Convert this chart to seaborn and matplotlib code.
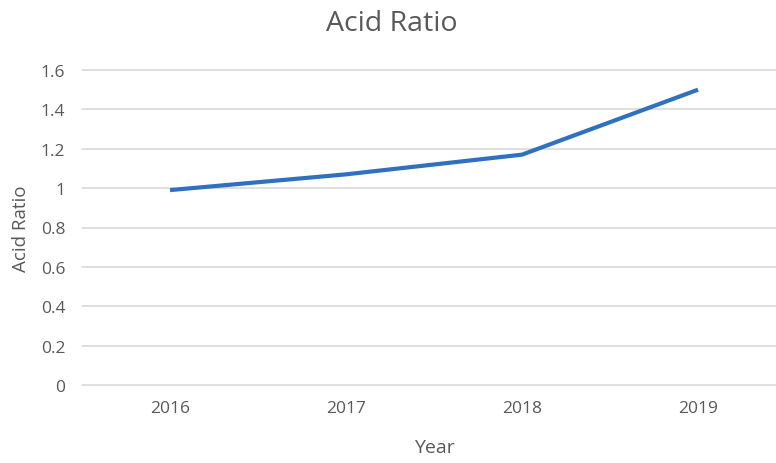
import matplotlib
matplotlib.use("Agg")
import matplotlib.pyplot as plt
import seaborn as sns
import pandas as pd

years = ["2016", "2017", "2018", "2019"]
acid_ratio = [0.99, 1.07, 1.17, 1.50]
y_ticks = [0, 0.2, 0.4, 0.6, 0.8, 1.0, 1.2, 1.4, 1.6]
y_tick_labels = ["0", "0.2", "0.4", "0.6", "0.8", "1", "1.2", "1.4", "1.6"]

df = pd.DataFrame({"Year": years, "Acid Ratio": acid_ratio})

sns.set_theme(style="white")
plt.rcParams["font.family"] = ["Open Sans", "DejaVu Sans"]
txt = "#595959"

fig = plt.figure(figsize=(7.76, 4.64), dpi=100)
ax = fig.add_axes([82 / 776, 78 / 464, 704 / 776, 315 / 464])

sns.lineplot(data=df, x="Year", y="Acid Ratio", ax=ax, color="#2F70C1",
             linewidth=3.0, solid_capstyle="butt", sort=False)

ax.set_xlim(-0.5, 3.5)
ax.set_ylim(0, 1.6)
ax.set_yticks(y_ticks)
ax.set_yticklabels(y_tick_labels)
ax.yaxis.grid(True, color="#D9D9D9", linewidth=1.2)
for gl in ax.get_ygridlines():
    gl.set_clip_on(False)
ax.xaxis.grid(False)
ax.set_axisbelow(True)
for s in ax.spines.values():
    s.set_visible(False)
ax.tick_params(axis="both", length=0, labelsize=12.5, labelcolor=txt)
ax.tick_params(axis="y", pad=12)
ax.tick_params(axis="x", pad=11)

ax.set_xlabel("Year", fontsize=14, color=txt, labelpad=16)
ax.set_ylabel("Acid Ratio", fontsize=13.5, color=txt, labelpad=8)

fig.text(0.505, 1 - 24 / 464, "Acid Ratio", ha="center", va="center",
         fontsize=20.5, color=txt)

fig.savefig("out.png", dpi=100)
